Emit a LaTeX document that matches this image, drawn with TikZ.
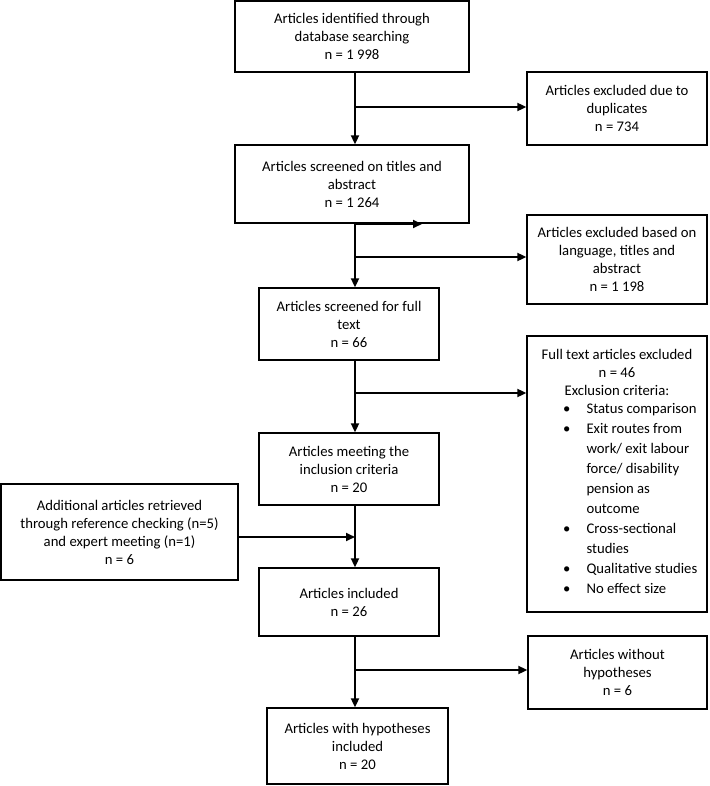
\documentclass[tikz,border=0pt]{standalone}
\usepackage{fontspec}
\setmainfont{Carlito}
\usetikzlibrary{arrows.meta}
\begin{document}
\begin{tikzpicture}[x=1pt,y=-1pt,
  box/.style={draw, line width=1.3pt, align=center, inner sep=0pt, font=\fontsize{14.7}{18}\selectfont},
  txt/.style={inner sep=0pt},
  arr/.style={line width=1.8pt, -{Triangle[length=9pt,width=8pt]}}]
\useasboundingbox (0,0) rectangle (709,786);
% boxes
\node[box, minimum width=234, minimum height=71] (A) at (352,36.5) {Articles identified through\\database searching\\n = 1 998};
\node[box, minimum width=180, minimum height=73] (B) at (617,108.5) {Articles excluded due to\\duplicates\\n = 734};
\node[box, minimum width=234, minimum height=78] (C) at (352,184) {Articles screened on titles and\\abstract\\n = 1 264};
\node[box, minimum width=180, minimum height=89] (D) at (617,259.5) {Articles excluded based on\\language, titles and\\abstract\\n = 1 198};
\node[box, minimum width=180, minimum height=72] (E) at (349,324) {Articles screened for full\\text\\n = 66};
\node[box, minimum width=180, minimum height=276] (F) at (617,474) {};
\node[txt, anchor=north, font=\fontsize{14.7}{18}\selectfont] (Fh) at (617,346.5)
  {\begin{tabular}{@{}c@{}}Full text articles excluded\\n = 46\\Exclusion criteria:\end{tabular}};
\node[txt, anchor=north west, font=\fontsize{14.7}{20}\selectfont] (Fl) at (563,399)
  {\begin{tabular}{@{}l@{\hspace{16pt}}l@{}}
  • & Status comparison\\
  • & Exit routes from\\
    & work/ exit labour\\
    & force/ disability\\
    & pension as\\
    & outcome\\
  • & Cross-sectional\\
    & studies\\
  • & Qualitative studies\\
  • & No effect size
  \end{tabular}};
\node[box, minimum width=180, minimum height=72] (G) at (349,469) {Articles meeting the\\inclusion criteria\\n = 20};
\node[box, minimum width=237, minimum height=96] (H) at (119.5,532) {Additional articles retrieved\\through reference checking (n=5)\\and expert meeting (n=1)\\n = 6};
\node[box, minimum width=180, minimum height=68] (I) at (349,602) {Articles included\\n = 26};
\node[box, minimum width=179, minimum height=73] (J) at (617.5,672.5) {Articles without\\hypotheses\\n = 6};
\node[box, minimum width=181, minimum height=76] (K) at (357.5,746) {Articles with hypotheses\\included\\n = 20};
% spine and branch points
\coordinate (S) at (355,0);
\coordinate (b1) at (355,107);
\coordinate (b2) at (355,257);
\coordinate (b3) at (355,393);
\coordinate (b4) at (355,670);
\coordinate (h1) at (355,537);
\coordinate (s1) at (355,224);
\coordinate (s2) at (422,224);
% connectors
\draw[arr] (A.south -| S) -- (C.north -| S);
\draw[arr] (b1) -- (b1 -| B.west);
\draw[arr] (C.south -| S) -- (E.north -| S);
\draw[arr] (s1) -- (s2);
\draw[arr] (b2) -- (b2 -| D.west);
\draw[arr] (E.south -| S) -- (G.north -| S);
\draw[arr] (b3) -- (b3 -| F.west);
\draw[arr] (G.south -| S) -- (I.north -| S);
\draw[arr] (H.east |- h1) -- (h1);
\draw[arr] (I.south -| S) -- (K.north -| S);
\draw[arr] (b4) -- (b4 -| J.west);
\end{tikzpicture}
\end{document}
